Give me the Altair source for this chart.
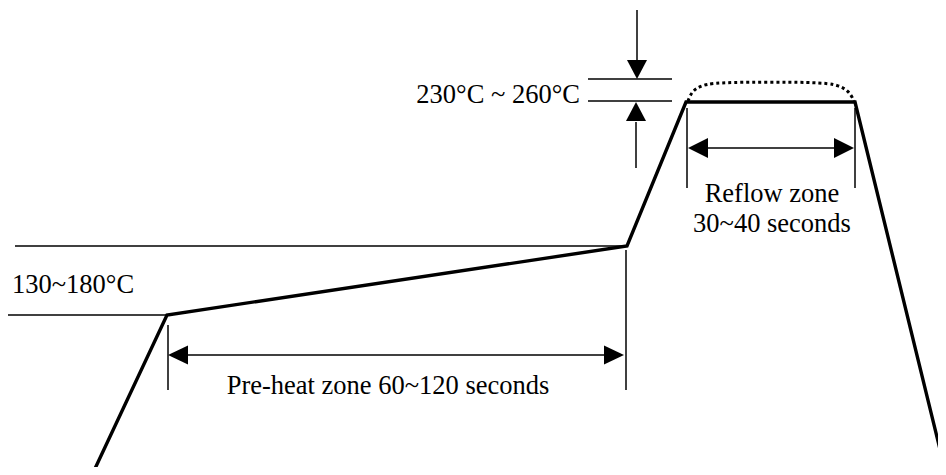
import altair as alt
import pandas as pd

# Diagram coordinates (time axis to the right, temperature axis downward in drawing units)
profile_x = [92, 167, 627, 686, 855, 947]
profile_y = [475, 315, 246, 102, 102, 478]

peak_x = [688, 692, 702, 720, 820, 838, 849, 854]
peak_y = [101, 91, 85, 82, 82, 85, 91, 101]

seg_x1 = [15, 8, 588, 588, 637, 636, 178, 168, 626, 698, 687, 855]
seg_y1 = [246, 315, 79, 101, 10, 122, 355, 325, 250, 148, 108, 108]
seg_x2 = [627, 167, 672, 672, 637, 636, 614, 168, 626, 844, 687, 855]
seg_y2 = [246, 315, 79, 101, 62, 168, 355, 390, 390, 148, 188, 188]

head_x = [168, 624, 688, 854, 637, 636]
head_y = [355, 355, 148, 148, 79, 102]
head_shape = [
    "M0,0L2,-0.95L2,0.95Z",
    "M0,0L-2,-0.95L-2,0.95Z",
    "M0,0L2,-1L2,1Z",
    "M0,0L-2,-1L-2,1Z",
    "M0,0L-1,-1.9L1,-1.9Z",
    "M0,0L-1,1.9L1,1.9Z",
]

labels = ["230°C ~ 260°C", "130~180°C", "Pre-heat zone 60~120 seconds",
          "Reflow zone", "30~40 seconds"]
label_x = [580, 12, 388, 772, 772]
label_y = [103, 293, 394, 202, 232]
label_align = ["right", "left", "center", "center", "center"]

xs = alt.Scale(domain=[8, 938])
ys = alt.Scale(domain=[8, 467], reverse=True)

prof = pd.DataFrame({"x": profile_x, "y": profile_y, "o": range(len(profile_x))})
peak = pd.DataFrame({"x": peak_x, "y": peak_y, "o": range(len(peak_x))})
segs = pd.DataFrame({"x": seg_x1, "y": seg_y1, "x2": seg_x2, "y2": seg_y2})
heads = pd.DataFrame({"x": head_x, "y": head_y, "shape": head_shape})
texts = pd.DataFrame({"x": label_x, "y": label_y, "t": labels, "a": label_align})

X = lambda f: alt.X(f, type="quantitative", scale=xs, axis=None)
Y = lambda f: alt.Y(f, type="quantitative", scale=ys, axis=None)

profile = alt.Chart(prof).mark_line(
    color="black", strokeWidth=3.4, strokeJoin="miter", strokeCap="butt"
).encode(x=X("x"), y=Y("y"), order="o:Q")

peak_line = alt.Chart(peak).mark_line(
    color="black", strokeWidth=3, strokeDash=[3, 3], interpolate="basis"
).encode(x=X("x"), y=Y("y"), order="o:Q")

rules = alt.Chart(segs).mark_rule(color="black", strokeWidth=1.5).encode(
    x=X("x"), y=Y("y"), x2="x2", y2="y2"
)

arrows = alt.Chart(heads).mark_point(
    filled=True, color="black", opacity=1, size=400, strokeWidth=0
).encode(x=X("x"), y=Y("y"), shape=alt.Shape("shape:N", scale=None))

def txt(align):
    d = texts[texts["a"] == align]
    return alt.Chart(d).mark_text(
        align=align, baseline="alphabetic", font="Liberation Serif",
        fontSize=26.5, color="black"
    ).encode(x=X("x"), y=Y("y"), text="t:N")

chart = alt.layer(
    rules, profile, peak_line, arrows, txt("left"), txt("right"), txt("center")
).properties(
    width=930, height=459, padding=0, background="white",
    autosize=alt.AutoSizeParams(type="none")
).configure_view(strokeWidth=0, stroke=None)

chart.save("out.html", embed_options={"renderer": "svg", "actions": False})
